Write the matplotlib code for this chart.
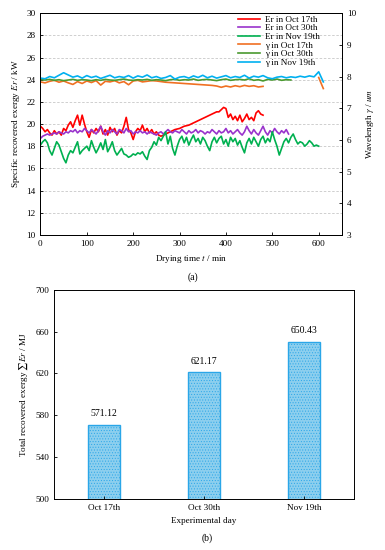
import numpy as np
import matplotlib
matplotlib.use("Agg")
import matplotlib.pyplot as plt

plt.rcParams['font.family'] = ['Liberation Serif', 'DejaVu Serif']
plt.rcParams['mathtext.fontset'] = 'stix'
plt.rcParams['hatch.linewidth'] = 0.4

# --- (a) recovered exergy, 5-min steps ---
er_oct17 = [19.8, 19.6, 19.3, 19.5, 19.2, 19.0, 19.4, 19.1, 19.3, 19.0, 19.6, 19.4, 19.9, 20.2, 19.7,
            20.3, 20.8, 19.9, 20.8, 20.0, 19.3, 18.8, 19.5, 19.2, 19.6, 19.3, 19.8, 19.1, 19.5, 19.0,
            19.7, 19.3, 19.6, 19.0, 19.4, 19.2, 19.8, 20.6, 19.5, 19.2, 18.6, 19.3, 19.6, 19.4, 19.9,
            19.3, 19.6, 19.2, 19.5, 19.1, 19.3, 19.0, 18.9, 19.0, 19.1, 19.2, 19.3, 19.4, 19.5, 19.55,
            19.6, 19.7, 19.8, 19.85, 19.9, 20.0, 20.1, 20.2, 20.3, 20.4, 20.5, 20.6, 20.7, 20.8, 20.9,
            21.0, 21.1, 21.1, 21.3, 21.5, 21.4, 20.6, 20.9, 20.4, 20.7, 20.3, 20.8, 20.2, 20.5, 20.9,
            20.4, 20.6, 20.3, 21.0, 21.2, 20.9, 20.8]
er_oct30 = [18.7, 18.9, 19.0, 19.1, 19.0, 19.1, 19.2, 19.1, 19.3, 19.2, 19.1, 19.3, 19.2, 19.4, 19.3,
            19.5, 19.2, 19.4, 19.3, 19.6, 19.4, 19.2, 19.5, 19.3, 19.1, 19.4, 19.8, 19.3, 19.0, 19.4,
            19.2, 19.5, 19.3, 19.1, 19.5, 19.4, 19.2, 19.6, 19.3, 19.4, 19.1, 19.3, 19.2, 19.4, 19.2,
            19.3, 19.1, 19.3, 19.2, 19.1, 19.0, 19.2, 19.3, 19.1, 19.3, 19.5, 19.3, 19.2, 19.4, 19.3,
            19.2, 19.5, 19.3, 19.1, 19.4, 19.2, 19.3, 19.5, 19.2, 19.4, 19.3, 19.1, 19.3, 19.2, 19.5,
            19.3, 19.1, 19.4, 19.2, 19.3, 19.6, 19.2, 19.4, 19.1, 19.3, 19.5, 19.2, 19.0, 19.3, 19.8,
            19.4, 19.1, 19.5, 19.2, 19.0, 19.4, 19.8, 19.3, 19.0, 19.4, 19.2, 19.6, 19.3, 19.1, 19.4,
            19.2, 19.5, 19.1]
er_nov19 = [18.1, 18.4, 18.6, 18.3, 17.6, 17.2, 17.8, 18.4, 18.1, 17.5, 16.9, 16.5, 17.2, 17.6, 17.4,
            17.9, 18.4, 17.3, 17.6, 17.8, 18.0, 17.6, 18.5, 17.9, 17.4, 17.8, 18.3, 17.7, 18.6, 17.5,
            17.9, 18.4, 17.6, 17.2, 17.5, 17.8, 17.3, 17.2, 17.0, 17.1, 17.3, 17.2, 17.4, 17.3, 17.5,
            17.1, 16.8, 17.6, 17.9, 18.4, 18.1, 18.8, 18.5, 18.9, 19.3, 18.2, 18.9, 17.8, 17.2, 18.0,
            18.6, 18.9, 18.3, 18.8, 18.1, 18.6, 19.0, 18.4, 18.7, 18.2, 18.8, 18.5, 18.0, 17.6, 18.4,
            18.8, 18.3, 18.7, 18.9, 18.2, 18.6, 18.0, 18.8, 18.4, 18.7, 18.1, 18.5, 17.9, 17.4, 18.3,
            18.7, 18.2, 18.8, 18.4, 18.0, 18.6, 18.9, 18.3, 18.7, 18.4, 19.3, 18.6, 18.0, 17.2, 17.8,
            18.4, 18.7, 18.3, 18.8, 19.1, 18.6, 18.2, 18.4, 18.3, 18.0, 18.2, 18.5, 18.3, 18.0, 18.1,
            18.0]

# --- (a) wavelength, 10-min steps ---
nan = np.nan
gam_oct17 = [7.83, 7.80, 7.85, 7.88, 7.82, 7.86, 7.80, 7.75, 7.84, 7.78, 7.86, 7.81, 7.87, 7.73, 7.85,
             7.83, 7.87, 7.80, 7.84, 7.74, 7.86, 7.88, 7.83, 7.85, 7.87, 7.86, 7.84, 7.82, 7.81, 7.80,
             7.79, 7.78, 7.77, 7.76, 7.75, 7.74, 7.73, 7.72, 7.70, 7.66, 7.70, 7.67, 7.71, 7.68, 7.72,
             7.69, 7.71, 7.67, 7.69, nan, nan, nan, nan, nan, nan, nan, nan, nan, nan, nan, 7.97, 7.62]
gam_oct30 = [7.90, 7.89, 7.91, 7.88, 7.90, 7.87, 7.89, 7.91, 7.88, 7.90, 7.89, 7.87, 7.90, 7.88, 7.91,
             7.89, 7.88, 7.90, 7.92, 7.89, 7.88, 7.90, 7.89, 7.91, 7.88, 7.90, 7.89, 7.87, 7.90, 7.91,
             7.88, 7.90, 7.89, 7.92, 7.88, 7.90, 7.91, 7.89, 7.87, 7.90, 7.92, 7.88, 7.90, 7.91, 7.89,
             7.93, 7.88, 7.90, 7.86, 7.91, 7.89, 7.92, 7.88, 7.90, 7.89]
gam_nov19 = [7.95, 7.93, 8.00, 7.96, 8.04, 8.12, 8.05, 7.98, 8.02, 7.95, 8.03, 7.97, 8.01, 7.94, 7.99,
             8.04, 7.96, 8.00, 7.97, 8.03, 7.95, 8.02, 7.98, 8.05, 7.96, 8.00, 7.94, 7.97, 8.03, 7.92,
             7.98, 8.00, 7.95, 8.02, 7.97, 8.04, 7.96, 8.01, 7.95, 7.99, 8.03, 7.96, 8.00, 7.97, 8.04,
             7.95, 8.01, 7.98, 8.03, 7.96, 7.93, 7.98, 8.00, 7.96, 7.99, 7.97, 8.01, 7.98, 8.02, 7.99,
             8.15, 7.83]

# --- (b) totals ---
days = ['Oct 17th', 'Oct 30th', 'Nov 19th']
totals = [571.12, 621.17, 650.43]

fig = plt.figure(figsize=(3.85, 5.5), dpi=100)
fs = 6.6

ax = fig.add_axes([0.105, 0.573, 0.783, 0.403])
ax2 = ax.twinx()

def t5(v):
    return np.arange(len(v)) * 5

def t10(v):
    return np.arange(len(v)) * 10

lw = 1.2
h1, = ax.plot(t5(er_oct17), er_oct17, color='#FF0000', lw=lw, label='Er in Oct 17th')
h2, = ax.plot(t5(er_oct30), er_oct30, color='#9933CC', lw=lw, label='Er in Oct 30th')
h3, = ax.plot(t5(er_nov19), er_nov19, color='#00B050', lw=lw, label='Er in Nov 19th')
h4, = ax2.plot(t10(gam_oct17), gam_oct17, color='#F07022', lw=lw, label='\u03b3 in Oct 17th')
h5, = ax2.plot(t10(gam_oct30), gam_oct30, color='#4A9A30', lw=lw, label='\u03b3 in Oct 30th')
h6, = ax2.plot(t10(gam_nov19), gam_nov19, color='#00B0F0', lw=lw, label='\u03b3 in Nov 19th')

ax.set_xlim(0, 650)
ax.set_ylim(10, 30)
ax.set_yticks(np.arange(10, 31, 2))
ax.set_xticks(np.arange(0, 601, 100))
ax2.set_ylim(3, 10)
ax2.set_yticks(np.arange(3, 11, 1))
ax.grid(axis='y', ls=(0, (3, 2)), color='#C8C8C8', lw=0.6)
ax.set_axisbelow(True)
for a in (ax, ax2):
    a.tick_params(direction='in', labelsize=fs, length=2, width=0.6)
    for s in a.spines.values():
        s.set_linewidth(0.7)
ax.set_xlabel(r'Drying time $\mathit{t}$ / min', fontsize=fs, labelpad=4)
ax.set_ylabel(r'Specific recovered exergy $\mathit{Er}$ / kW', fontsize=fs, labelpad=3)
ax2.set_ylabel(r'Wavelength $\gamma$ / $\mathit{um}$', fontsize=fs, labelpad=6)
ax2.legend(handles=[h1, h2, h3, h4, h5, h6], loc='upper right', bbox_to_anchor=(0.945, 1.015),
           frameon=False, fontsize=fs, handlelength=2.4, labelspacing=0.02, handletextpad=0.5,
           borderaxespad=0.2)
fig.text(0.5, 0.496, '(a)', ha='center', va='center', fontsize=7)

# --- (b) ---
bx = fig.add_axes([0.140, 0.093, 0.779, 0.380])
x = np.arange(len(days))
bars = bx.bar(x, totals, width=0.32, bottom=0, color='#8DCFEE', edgecolor='#2AA6E8',
              hatch='......', lw=1.0)
for xi, v in zip(x, totals):
    bx.text(xi, v + 6, f'{v:.2f}', ha='center', va='bottom', fontsize=7)
bx.set_xlim(-0.5, 2.5)
bx.set_ylim(500, 700)
bx.set_yticks(np.arange(500, 701, 40))
bx.set_xticks(x)
bx.set_xticklabels(days)
bx.tick_params(direction='in', labelsize=fs, length=2, width=0.6)
for s in bx.spines.values():
    s.set_linewidth(0.7)
bx.set_xlabel('Experimental day', fontsize=fs, labelpad=4)
bx.set_ylabel(r'Total recovered exergy $\sum\mathit{Er}$ / MJ', fontsize=fs, labelpad=4)
fig.text(0.537, 0.022, '(b)', ha='center', va='center', fontsize=7)

fig.savefig('out.png', dpi=100)
